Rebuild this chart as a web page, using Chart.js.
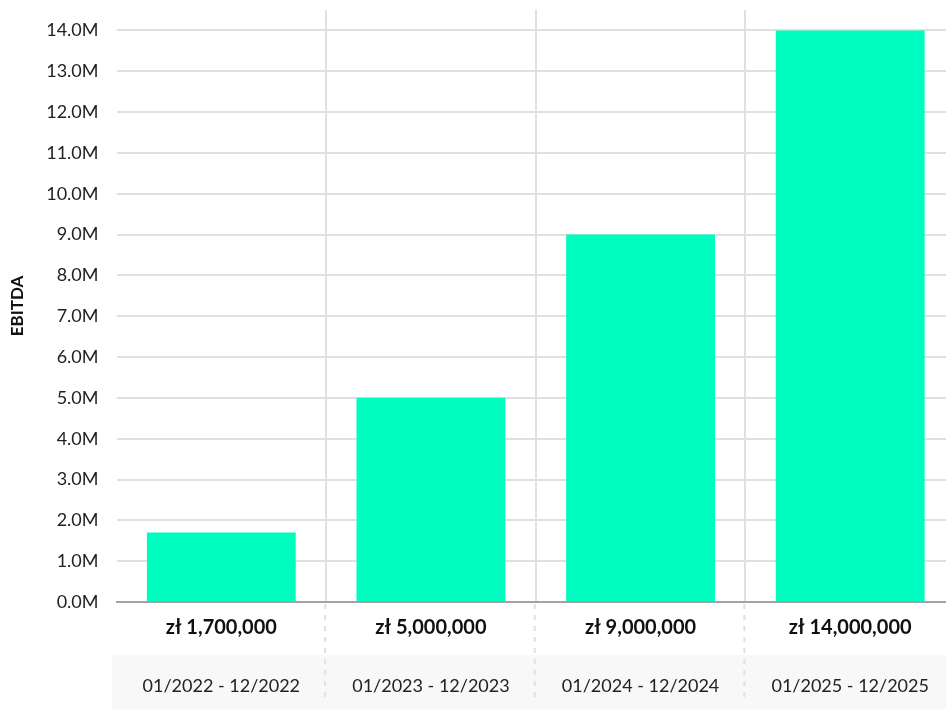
<!DOCTYPE html>
<html>
<head>
<meta charset="utf-8">
<script src="https://cdn.jsdelivr.net/npm/chart.js@4"></script>
<style>
    html, body { margin: 0; padding: 0; background: #fff; overflow: hidden; }
    .wrap { width: 956px; height: 709px; }
</style>
</head>
<body>
<div class="wrap"><canvas id="chartEbitda" width="956" height="709"></canvas></div>
<script>
/* =========================================================
   DATA
========================================================= */
const periods = ["01/2022 - 12/2022", "01/2023 - 12/2023", "01/2024 - 12/2024", "01/2025 - 12/2025"];
const ebitda = [1700000, 5000000, 9000000, 14000000];
const valueLabels = ["zł 1,700,000", "zł 5,000,000", "zł 9,000,000", "zł 14,000,000"];
const yTicks = [0, 1e6, 2e6, 3e6, 4e6, 5e6, 6e6, 7e6, 8e6, 9e6, 10e6, 11e6, 12e6, 13e6, 14e6];

const FONT = "Lato, 'Open Sans', sans-serif";
const GRID = "#e0e0e0";

/* =========================================================
   PLUGIN: second label row (periods) + dashed separators
========================================================= */
const periodRow = {
    id: "periodRow",
    afterDraw(chart) {
        const c = chart.ctx;
        const x = chart.scales.x;
        const area = chart.chartArea;
        const rowTop = 655, rowBottom = chart.height;

        c.save();
        c.fillStyle = "#f8f8f8";
        c.fillRect(112, rowTop, chart.width - 112, rowBottom - rowTop);

        // dashed lines between categories, below the axis
        c.strokeStyle = GRID;
        c.lineWidth = 2;
        c.setLineDash([5, 6]);
        for (let i = 1; i < periods.length; i++) {
            const px = (x.getPixelForValue(i - 1) + x.getPixelForValue(i)) / 2 - 1;
            c.beginPath();
            c.moveTo(px, area.bottom + 2);
            c.lineTo(px, rowBottom - 6);
            c.stroke();
        }
        c.setLineDash([]);

        c.fillStyle = "#222";
        c.font = "18px " + FONT;
        c.textAlign = "center";
        c.textBaseline = "middle";
        periods.forEach((p, i) => {
            c.fillText(p, x.getPixelForValue(i), 686);
        });
        c.restore();
    }
};

/* =========================================================
   CHART
========================================================= */
const canvas = document.getElementById("chartEbitda");

new Chart(canvas, {
    type: "bar",
    data: {
        labels: valueLabels,
        datasets: [{
            label: "EBITDA",
            data: ebitda,
            backgroundColor: "#00fdc0",
            borderWidth: 0,
            barPercentage: 0.71,
            categoryPercentage: 1
        }]
    },
    options: {
        responsive: false,
        animation: false,
        devicePixelRatio: 1,
        layout: { padding: { top: 10, right: 1, left: 0, bottom: 0 } },
        plugins: {
            legend: { display: false },
            tooltip: { enabled: false }
        },
        scales: {
            x: {
                grid: {
                    color: ctx => ctx.index === 0 ? "rgba(0,0,0,0)" : GRID,
                    lineWidth: 2,
                    drawTicks: false
                },
                border: { display: true, color: "#a3a3a3", width: 2 },
                ticks: {
                    padding: 14,
                    color: "#111",
                    maxRotation: 0,
                    font: { family: FONT, size: 20, weight: "bold" }
                },
                afterFit: scale => { scale.height = 107; }
            },
            y: {
                min: 0,
                max: 14500000,
                grid: { color: GRID, lineWidth: 2, drawTicks: false },
                border: { display: false },
                afterBuildTicks: scale => {
                    scale.ticks = yTicks.map(v => ({ value: v }));
                },
                ticks: {
                    padding: 18,
                    color: "#222",
                    font: { family: FONT, size: 18 },
                    callback: v => (v / 1e6).toFixed(1) + "M"
                },
                title: {
                    display: true,
                    text: "EBITDA",
                    color: "#111",
                    font: { family: FONT, size: 17, weight: "bold" },
                    padding: { top: 7, bottom: 0 }
                },
                afterFit: scale => {
                    scale.width = 116.5;
                    scale.paddingTop = 0;
                    scale.paddingBottom = 0;
                }
            }
        }
    },
    plugins: [periodRow]
});
</script>
</body>
</html>
